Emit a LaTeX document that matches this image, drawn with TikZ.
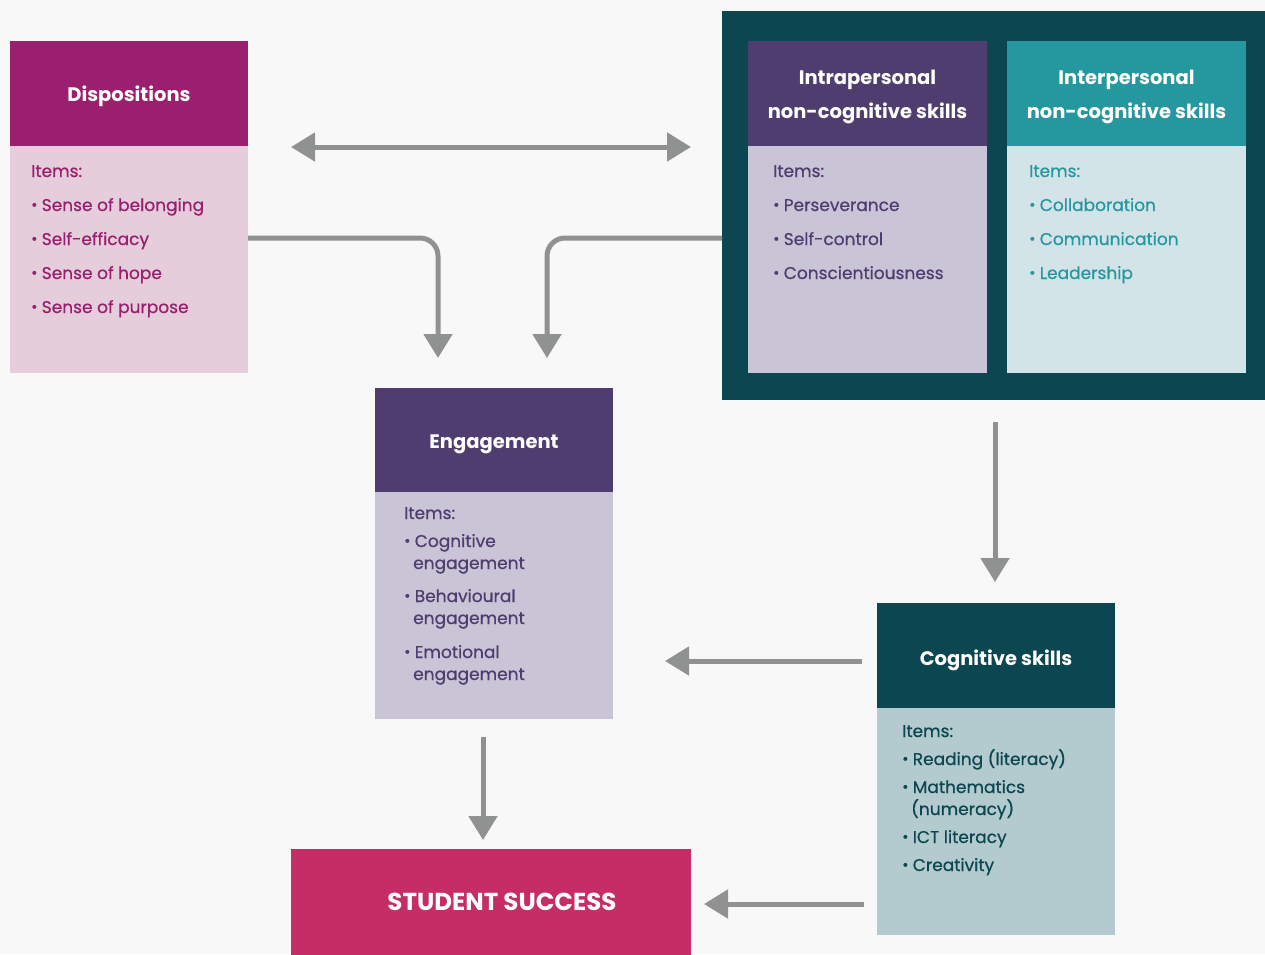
\documentclass[tikz,border=0pt]{standalone}
\usepackage{fontspec}
\setmainfont{Poppins}
\newfontfamily\medfont[FakeBold=0.7]{Poppins}
\usetikzlibrary{arrows.meta,calc}
\definecolor{bg}{HTML}{F8F8F8}
\definecolor{magH}{HTML}{9A1F6F}
\definecolor{magB}{HTML}{E5CDDB}
\definecolor{purH}{HTML}{503D70}
\definecolor{purB}{HTML}{C9C4D6}
\definecolor{tealO}{HTML}{0C4651}
\definecolor{tealH}{HTML}{25979F}
\definecolor{tealB}{HTML}{D3E4E8}
\definecolor{cogB}{HTML}{B3CBCF}
\definecolor{pinkS}{HTML}{C62D66}
\definecolor{arr}{HTML}{8F9290}
\newcommand{\bul}{\raisebox{0.06em}{\scalebox{0.9}{•}}\hspace{0.25em}}
\tikzset{
  box/.style={draw=none, inner sep=0pt, outer sep=0pt},
  htext/.style={text=white, font=\fontsize{19.5}{34}\selectfont\bfseries, align=center},
  itxt/.style={anchor=base west, inner sep=0pt, font=\medfont\fontsize{17}{20}\selectfont},
  conn/.style={draw=arr, line width=5pt, -{Triangle[length=24pt,width=28pt]}},
  conn2/.style={draw=arr, line width=5pt, {Triangle[length=24pt,width=28pt]}-{Triangle[length=24pt,width=28pt]}},
}
\begin{document}
\begin{tikzpicture}[x=1pt,y=-1pt]
\useasboundingbox (0,0) rectangle (1265,954);
\fill[bg] (0,0) rectangle (1265,954);
% Dispositions
\node[box,fill=magH,minimum width=238pt,minimum height=105pt,anchor=north west] (dispH) at (10,41) {};
\node[htext] (dispT) at (129,96.5) {Dispositions};
\node[box,fill=magB,minimum width=238pt,minimum height=227pt,anchor=north west] (dispB) at (10,146) {};
\foreach \t [count=\i] in {Items:,\bul Sense of belonging,\bul Self-efficacy,\bul Sense of hope,\bul Sense of purpose}
  \node[itxt,text=magH] (di\i) at (31,{177+34*(\i-1)}) {\t};
% Outer teal box
\node[box,fill=tealO,minimum width=543pt,minimum height=389pt,anchor=north west] (outer) at (722,11) {};
% Intrapersonal
\node[box,fill=purH,minimum width=239pt,minimum height=105pt,anchor=north west] (intraH) at (748,41) {};
\node[htext] (intraT) at (867.5,97) {Intrapersonal\\non-cognitive skills};
\node[box,fill=purB,minimum width=239pt,minimum height=227pt,anchor=north west] (intraB) at (748,146) {};
\foreach \t [count=\i] in {Items:,\bul Perseverance,\bul Self-control,\bul Conscientiousness}
  \node[itxt,text=purH] (ia\i) at (773,{177+34*(\i-1)}) {\t};
% Interpersonal
\node[box,fill=tealH,minimum width=239pt,minimum height=105pt,anchor=north west] (interH) at (1007,41) {};
\node[htext] (interT) at (1126.5,97) {Interpersonal\\non-cognitive skills};
\node[box,fill=tealB,minimum width=239pt,minimum height=227pt,anchor=north west] (interB) at (1007,146) {};
\foreach \t [count=\i] in {Items:,\bul Collaboration,\bul Communication,\bul Leadership}
  \node[itxt,text=tealH] (ie\i) at (1029,{177+34*(\i-1)}) {\t};
% Engagement
\node[box,fill=purH,minimum width=238pt,minimum height=104pt,anchor=north west] (engH) at (375,388) {};
\node[htext] (engT) at (494,444.5) {Engagement};
\node[box,fill=purB,minimum width=238pt,minimum height=227pt,anchor=north west] (engB) at (375,492) {};
\node[itxt,text=purH] (e1) at (404,519) {Items:};
\node[itxt,text=purH] (e2) at (404,547) {\bul Cognitive};
\node[itxt,text=purH] (e3) at (413,569) {engagement};
\node[itxt,text=purH] (e4) at (404,602) {\bul Behavioural};
\node[itxt,text=purH] (e5) at (413,624) {engagement};
\node[itxt,text=purH] (e6) at (404,658) {\bul Emotional};
\node[itxt,text=purH] (e7) at (413,680) {engagement};
% Cognitive skills
\node[box,fill=tealO,minimum width=238pt,minimum height=105pt,anchor=north west] (cogH) at (877,603) {};
\node[htext] (cogT) at (996,660.5) {Cognitive skills};
\node[box,fill=cogB,minimum width=238pt,minimum height=227pt,anchor=north west] (cogB) at (877,708) {};
\node[itxt,text=tealO] (c1) at (902,737) {Items:};
\node[itxt,text=tealO] (c2) at (902,765) {\bul Reading (literacy)};
\node[itxt,text=tealO] (c3) at (902,793) {\bul Mathematics};
\node[itxt,text=tealO] (c4) at (911,815) {(numeracy)};
\node[itxt,text=tealO] (c5) at (902,843) {\bul ICT literacy};
\node[itxt,text=tealO] (c6) at (902,871) {\bul Creativity};
% Student success
\node[box,fill=pinkS,minimum width=400pt,minimum height=110pt,anchor=north west] (ss) at (291,849) {};
\node[text=white,font=\fontsize{24.5}{26}\selectfont\bfseries] (ssT) at (502,902) {STUDENT SUCCESS};
% Connectors
\coordinate (dA) at (291,147);
\coordinate (dB) at (691,147);
\draw[conn2] (dA) -- (dB);
\coordinate (lS) at (248,238);
\coordinate (lE) at (438,358);
\draw[conn,rounded corners=18pt] (lS) -| (lE);
\coordinate (rS) at (722,238);
\coordinate (rE) at (547,358);
\draw[conn,rounded corners=18pt] (rS) -| (rE);
\coordinate (vS) at (995,422);
\coordinate (vE) at (995,582);
\draw[conn] (vS) -- (vE);
\coordinate (hS) at (862,661);
\coordinate (hE) at (665,661);
\draw[conn] (hS) -- (hE);
\coordinate (sS) at (483,737);
\coordinate (sE) at (483,840);
\draw[conn] (sS) -- (sE);
\coordinate (tS) at (864,904);
\coordinate (tE) at (704,904);
\draw[conn] (tS) -- (tE);
\end{tikzpicture}
\end{document}
